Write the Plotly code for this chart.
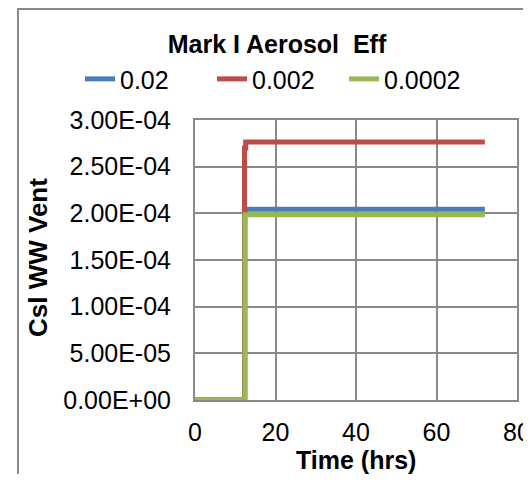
import plotly.graph_objects as go

# time (hrs) and CsI WW vent values
time_02 = [0, 12.4, 12.4, 72]
eff_02 = [0, 0, 2.045e-4, 2.045e-4]

time_002 = [0, 12.3, 12.3, 12.6, 12.6, 72]
eff_002 = [0, 0, 2.70e-4, 2.70e-4, 2.765e-4, 2.765e-4]

time_0002 = [0, 12.4, 12.4, 72]
eff_0002 = [0, 0, 1.985e-4, 1.985e-4]

y_ticks = [0, 5e-5, 1e-4, 1.5e-4, 2e-4, 2.5e-4, 3e-4]
y_labels = ['0.00E+00', '5.00E-05', '1.00E-04', '1.50E-04', '2.00E-04', '2.50E-04', '3.00E-04']
x_ticks = [0, 20, 40, 60, 80]

font = 'Liberation Sans, Arial, sans-serif'
grid = '#898989'

fig = go.Figure()
fig.add_trace(go.Scatter(x=time_02, y=eff_02, name='0.02', mode='lines',
                         line=dict(color='#4A7EBB', width=5)))
fig.add_trace(go.Scatter(x=time_002, y=eff_002, name='0.002', mode='lines',
                         line=dict(color='#BE4B48', width=5)))
fig.add_trace(go.Scatter(x=time_0002, y=eff_0002, name='0.0002', mode='lines',
                         line=dict(color='#98B954', width=5)))

# page has an 8px body margin on every side, so the figure is 16px smaller than the window
fig.update_layout(
    width=515, height=466,
    margin=dict(l=187, r=6, t=112, b=74, autoexpand=False),
    paper_bgcolor='white', plot_bgcolor='white',
    font=dict(family=font, color='black', size=25),
    title=dict(text='<b>Mark I Aerosol  Eff</b>', x=(277 - 8) / 515, xanchor='center',
               y=1 - 36 / 466, yanchor='middle', font=dict(size=25)),
    showlegend=True,
    legend=dict(orientation='h', x=(80 - 195) / 322, xanchor='left', y=1.146, yanchor='middle',
                font=dict(size=25), entrywidth=87, tracegroupgap=0,
                bgcolor='rgba(0,0,0,0)'),
)

fig.update_xaxes(range=[0, 80], tickvals=x_ticks, showgrid=True, gridcolor=grid, gridwidth=1.5,
                 showline=True, linecolor=grid, linewidth=2, mirror=True, zeroline=False,
                 ticks='outside', ticklen=9, tickcolor='rgba(0,0,0,0)',
                 ticklabeloverflow='allow', automargin=False)
fig.update_yaxes(range=[0, 3e-4], tickvals=y_ticks, ticktext=y_labels, showgrid=True,
                 gridcolor=grid, gridwidth=1.5, showline=True, linecolor=grid, linewidth=2,
                 mirror=True, zeroline=False, automargin=False,
                 ticks='outside', ticklen=17, tickcolor='rgba(0,0,0,0)')

# axis titles
fig.add_annotation(text='<b>Time (hrs)</b>', xref='paper', yref='paper',
                   x=0.5, y=(400 - 460) / 280, xanchor='center', yanchor='middle',
                   showarrow=False, font=dict(size=25))
fig.add_annotation(text='<b>Csl WW Vent</b>', xref='paper', yref='paper',
                   x=(38 - 195) / 322, y=(400 - 258) / 280, xanchor='center', yanchor='middle',
                   textangle=-90, showarrow=False, font=dict(size=26))

# chart-area border (cut off at right and bottom)
fig.add_shape(type='rect', xref='paper', yref='paper',
              x0=(18 - 195) / 322, x1=(545 - 195) / 322,
              y0=(400 - 495) / 280, y1=(400 - 9) / 280,
              line=dict(color=grid, width=2), layer='below')

fig.write_html('out.html')
